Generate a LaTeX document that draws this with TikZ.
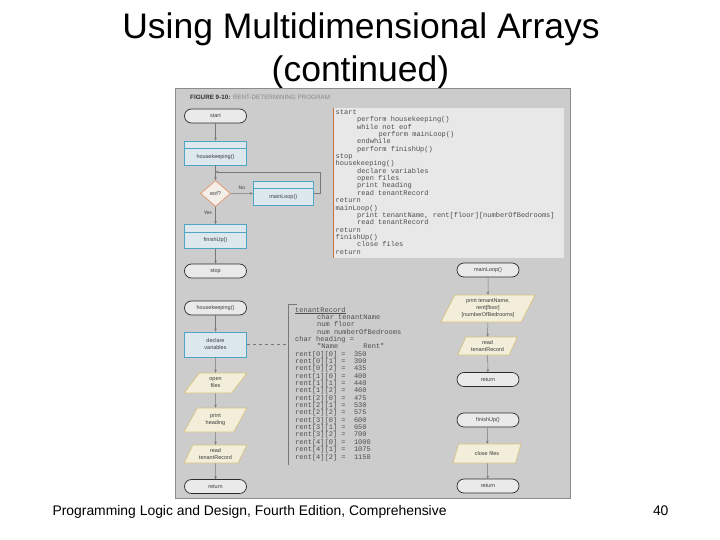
\documentclass[tikz,border=0pt]{standalone}
\usepackage{fontspec}
\setmainfont{Liberation Sans}
\setmonofont{Liberation Mono}
\usetikzlibrary{shapes.geometric,arrows.meta,positioning}
\definecolor{panelbg}{RGB}{204,204,204}
\definecolor{panelline}{RGB}{140,140,140}
\definecolor{codebg}{RGB}{232,232,232}
\definecolor{codebar}{RGB}{196,112,66}
\definecolor{codetxt}{RGB}{78,78,78}
\definecolor{termfill}{RGB}{234,234,234}
\definecolor{termline}{RGB}{45,45,45}
\definecolor{procfill}{RGB}{220,232,238}
\definecolor{procline}{RGB}{80,165,196}
\definecolor{iofill}{RGB}{242,238,218}
\definecolor{ioline}{RGB}{214,194,128}
\definecolor{decfill}{RGB}{243,238,232}
\definecolor{decline}{RGB}{226,150,108}
\definecolor{arrowgray}{RGB}{120,120,120}
\definecolor{shapetxt}{RGB}{60,60,60}
\definecolor{capdark}{RGB}{50,50,50}
\definecolor{caplight}{RGB}{135,135,135}
\begin{document}
\begin{tikzpicture}[x=1pt, y=-1pt,
  small/.style={font=\fontsize{5.5}{7}\selectfont, text=shapetxt},
  term/.style={small, draw=termline, fill=termfill, line width=0.7pt, rounded corners=7pt,
    minimum width=62pt, minimum height=14pt, inner sep=0pt},
  proc/.style={small, draw=procline, fill=procfill, line width=0.7pt, align=center,
    minimum width=62pt, minimum height=25pt, inner sep=0pt},
  modbox/.style={proc, minimum height=24pt,
    path picture={\draw[procline, line width=0.7pt]
      ([yshift=-7.5pt]path picture bounding box.north west) --
      ([yshift=-7.5pt]path picture bounding box.north east);}},
  modtext/.style={small, yshift=-3.8pt},
  io/.style={small, trapezium, trapezium left angle=60, trapezium right angle=120,
    trapezium stretches=true, draw=ioline, fill=iofill, line width=0.7pt, align=center,
    minimum width=63pt, minimum height=20pt, inner sep=0pt},
  decision/.style={small, diamond, draw=decline, fill=decfill, line width=0.7pt,
    minimum width=30pt, minimum height=26pt, inner sep=0pt},
  flow/.style={-{Stealth[length=3pt,width=2.6pt]}, draw=arrowgray, line width=0.5pt},
  code/.style={anchor=base west, inner sep=0pt, text=codetxt,
    font=\ttfamily\fontsize{7}{8}\selectfont}]
\useasboundingbox (0,0) rectangle (720,540);

\node[anchor=base, font=\fontsize{35.5}{40}\selectfont] (title1) at (361,39) {Using Multidimensional Arrays};
\node[anchor=base, font=\fontsize{35.5}{40}\selectfont] (title2) at (360.5,81.5) {(continued)};

\draw[fill=panelbg, draw=panelline, line width=0.8pt] (175,88) rectangle (570,498);
\node[anchor=base west, inner sep=0pt, font=\fontsize{6.3}{7}\selectfont] (figcap) at (190,99.5)
  {\textcolor{capdark}{\textbf{FIGURE 9-10:}} \textcolor{caplight}{RENT-DETERMINING PROGRAM}};

\fill[codebg] (333,108) rectangle (564,258);
\draw[codebar, line width=1.5pt] (333.5,108) -- (333.5,258);
\foreach \ind/\txt [count=\k from 0] in {0/start, 1/perform housekeeping(), 1/while not eof,
    2/perform mainLoop(), 1/endwhile, 1/perform finishUp(), 0/stop, 0/housekeeping(),
    1/declare variables, 1/open files, 1/print heading, 1/read tenantRecord, 0/return,
    0/mainLoop(), 1/{print tenantName, rent[floor][numberOfBedrooms]}, 1/read tenantRecord,
    0/return, 0/finishUp(), 1/close files, 0/return}
  \node[code] (pc\k) at (335.5+21.5*\ind, 114.3+7.37*\k) {\txt};

\node[term] (start) at (215.5,116) {start};
\node[modbox, label={[modtext]center:housekeeping()}] (hk) at (215.5,153) {};
\node[decision] (eof) at (215.5,193.5) {eof?};
\node[modbox, minimum width=60pt, label={[modtext]center:mainLoop()}] (ml) at (283.3,193.3) {};
\node[modbox, label={[modtext]center:finishUp()}] (fu) at (215.5,236.5) {};
\node[term] (stop) at (215.5,271) {stop};
\coordinate (join) at (215.5,172);

\draw[flow] (start) -- (hk);
\draw[flow] (hk) -- (eof);
\draw[flow] (eof) -- node[small, above, font=\fontsize{5}{6}\selectfont] {No} (ml);
\draw[flow] (eof) -- node[small, left, pos=0.35, font=\fontsize{5}{6}\selectfont] {Yes} (fu);
\draw[flow] (ml.east) -- ++(7,0) |- (join);
\draw[flow] (fu) -- (stop);

\node[term] (hkterm) at (215.5,308) {housekeeping()};
\node[proc] (decl) at (215.5,344.5) {declare\\variables};
\node[io] (openf) at (215.5,383) {open\\files};
\node[io, minimum height=24pt] (prhead) at (215.5,420) {print\\heading};
\node[io, minimum height=18pt] (rdleft) at (215.5,454) {read\\tenantRecord};
\node[term] (retleft) at (215.5,486.5) {return};
\draw[flow] (hkterm) -- (decl);
\draw[flow] (decl) -- (openf);
\draw[flow] (openf) -- (prhead);
\draw[flow] (prhead) -- (rdleft);
\draw[flow] (rdleft) -- (retleft);

\coordinate (brk) at (288.5,344.5);
\draw[dashed, draw=arrowgray, line width=0.5pt] (decl) -- (brk);
\draw[draw=arrowgray, line width=0.6pt] (297,304) -- (288.5,304) -- (288.5,465);
\node[code] (dd0) at (295,312) {\underline{tenantRecord}};
\node[code] (dd1) at (317,319.35) {char tenantName};
\node[code] (dd2) at (317,326.7) {num floor};
\node[code] (dd3) at (317,334.05) {num numberOfBedrooms};
\node[code] (dd4) at (295,341.4) {char heading =};
\node[code] (dd5) at (317,348.75) {"Name\ \ \ \ \ \ Rent"};
\foreach \i/\j/\v [count=\k from 6] in {0/0/350, 0/1/390, 0/2/435, 1/0/400, 1/1/440, 1/2/460,
    2/0/475, 2/1/530, 2/2/575, 3/0/600, 3/1/650, 3/2/700, 4/0/1000, 4/1/1075, 4/2/1150}
  \node[code] (rent\i\j) at (295, 312+7.35*\k) {rent[\i][\j] = \ \v};

\node[term] (mlterm) at (488,270) {mainLoop()};
\node[io, minimum width=95pt, minimum height=27pt] (prtenant) at (488,308.5)
  {print tenantName,\\rent[floor]\\{}[numberOfBedrooms]};
\node[io, minimum width=60pt, minimum height=18pt] (rdright) at (487.5,346) {read\\tenantRecord};
\node[term] (retright) at (488,379.5) {return};
\node[term] (futerm) at (488,420) {finishUp()};
\node[io, minimum width=68pt, minimum height=19pt] (closef) at (487,453.5) {close files};
\node[term] (retend) at (488,486) {return};
\draw[flow] (mlterm) -- (prtenant);
\draw[flow] (prtenant) -- (rdright);
\draw[flow] (rdright) -- (retright);
\draw[flow] (futerm) -- (closef);
\draw[flow] (closef) -- (retend);

\node[anchor=base west, font=\fontsize{13.9}{16}\selectfont] (footer) at (49,515)
  {Programming Logic and Design, Fourth Edition, Comprehensive};
\node[anchor=base east, font=\fontsize{13.9}{16}\selectfont] (pagenum) at (672,515) {40};
\end{tikzpicture}
\end{document}
